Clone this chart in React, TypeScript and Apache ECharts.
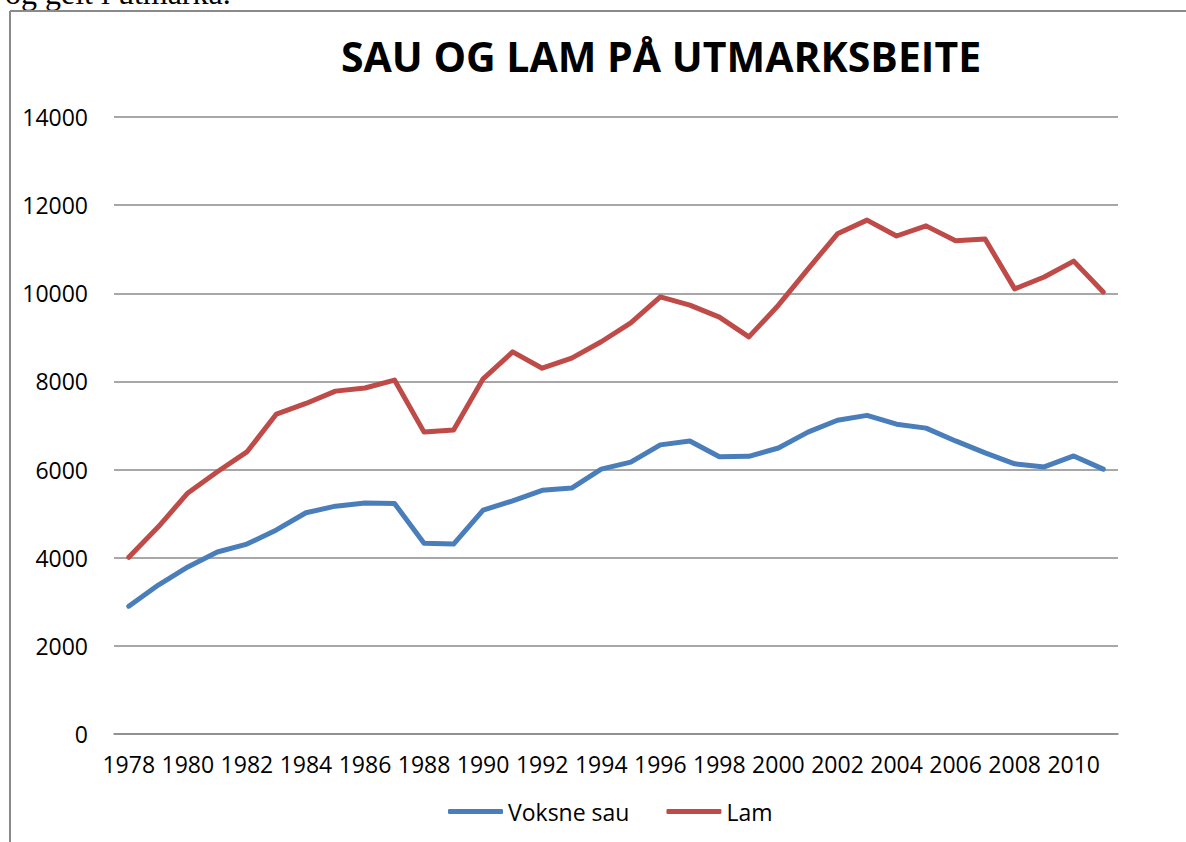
import React, { useEffect, useRef } from "react";
import * as echarts from "echarts";

const years = [
  "1978", "1979", "1980", "1981", "1982", "1983", "1984", "1985", "1986", "1987",
  "1988", "1989", "1990", "1991", "1992", "1993", "1994", "1995", "1996", "1997",
  "1998", "1999", "2000", "2001", "2002", "2003", "2004", "2005", "2006", "2007",
  "2008", "2009", "2010", "2011",
];

const voksneSau = [
  2900, 3380, 3790, 4130, 4310, 4630, 5020, 5170, 5240, 5230,
  4330, 4310, 5080, 5290, 5530, 5580, 6010, 6170, 6560, 6650,
  6290, 6300, 6490, 6850, 7120, 7230, 7030, 6940, 6650, 6380,
  6130, 6060, 6310, 6010,
];

const lam = [
  4010, 4700, 5470, 5950, 6400, 7260, 7500, 7780, 7850, 8030,
  6850, 6900, 8060, 8670, 8300, 8530, 8900, 9330, 9920, 9730,
  9460, 9010, 9730, 10550, 11350, 11660, 11300, 11530, 11190, 11230,
  10100, 10370, 10730, 10030,
];

const yTicks = { min: 0, max: 14000, interval: 2000 };

const titleText = "SAU OG LAM PÅ UTMARKSBEITE";
const topText = "og gelt i utmarka.";

export default function App() {
  const ref = useRef<HTMLDivElement>(null);
  useEffect(() => {
    if (!ref.current) return;
    const chart = echarts.init(ref.current, null, { renderer: "svg" });
    const font = "'Open Sans', sans-serif";
    chart.setOption({
      animation: false,
      backgroundColor: "#ffffff",
      title: {
        text: titleText,
        left: 656,
        textAlign: "center",
        top: 30,
        textStyle: { fontFamily: font, fontWeight: "bold", fontSize: 41, color: "#000" },
      },
      graphic: [
        {
          type: "text",
          left: 5,
          top: -23,
          style: { text: topText, fontFamily: "'Liberation Serif', serif", fontSize: 32, fill: "#000" },
        },
        {
          type: "line",
          shape: { x1: 10, y1: 11, x2: 1186, y2: 11 },
          style: { stroke: "#8a8a8a", lineWidth: 2 },
        },
        {
          type: "line",
          shape: { x1: 10, y1: 11, x2: 10, y2: 842 },
          style: { stroke: "#8a8a8a", lineWidth: 2 },
        },
      ],
      legend: {
        bottom: 14,
        left: 443,
        icon: "roundRect",
        itemWidth: 55,
        itemHeight: 5,
        itemGap: 37,
        textStyle: { fontFamily: font, fontSize: 23, color: "#000" },
        data: ["Voksne sau", "Lam"],
      },
      grid: { left: 114, right: 68, top: 117, bottom: 108, containLabel: false },
      xAxis: {
        type: "category",
        data: years,
        boundaryGap: true,
        axisTick: { show: false },
        axisLine: { lineStyle: { color: "#8a8a8a", width: 1.5 } },
        axisLabel: { interval: 1, margin: 18, fontFamily: font, fontSize: 23, color: "#000" },
      },
      yAxis: {
        type: "value",
        min: yTicks.min,
        max: yTicks.max,
        interval: yTicks.interval,
        axisLine: { show: false },
        axisTick: { show: false },
        axisLabel: {
          margin: 26,
          fontFamily: font,
          fontSize: 23,
          color: "#000",
          formatter: (v: number) => String(v),
        },
        splitLine: { lineStyle: { color: "#8a8a8a", width: 1.5 } },
      },
      series: [
        {
          name: "Voksne sau",
          type: "line",
          data: voksneSau,
          symbol: "none",
          color: "#4A7EBB",
          lineStyle: { width: 5, color: "#4A7EBB", cap: "round", join: "round" },
        },
        {
          name: "Lam",
          type: "line",
          data: lam,
          symbol: "none",
          color: "#BE4B48",
          lineStyle: { width: 5, color: "#BE4B48", cap: "round", join: "round" },
        },
      ],
    });
    return () => chart.dispose();
  }, []);
  return (
    <div
      ref={ref}
      style={{ position: "fixed", left: 0, top: 0, width: 1186, height: 842 }}
    />
  );
}
